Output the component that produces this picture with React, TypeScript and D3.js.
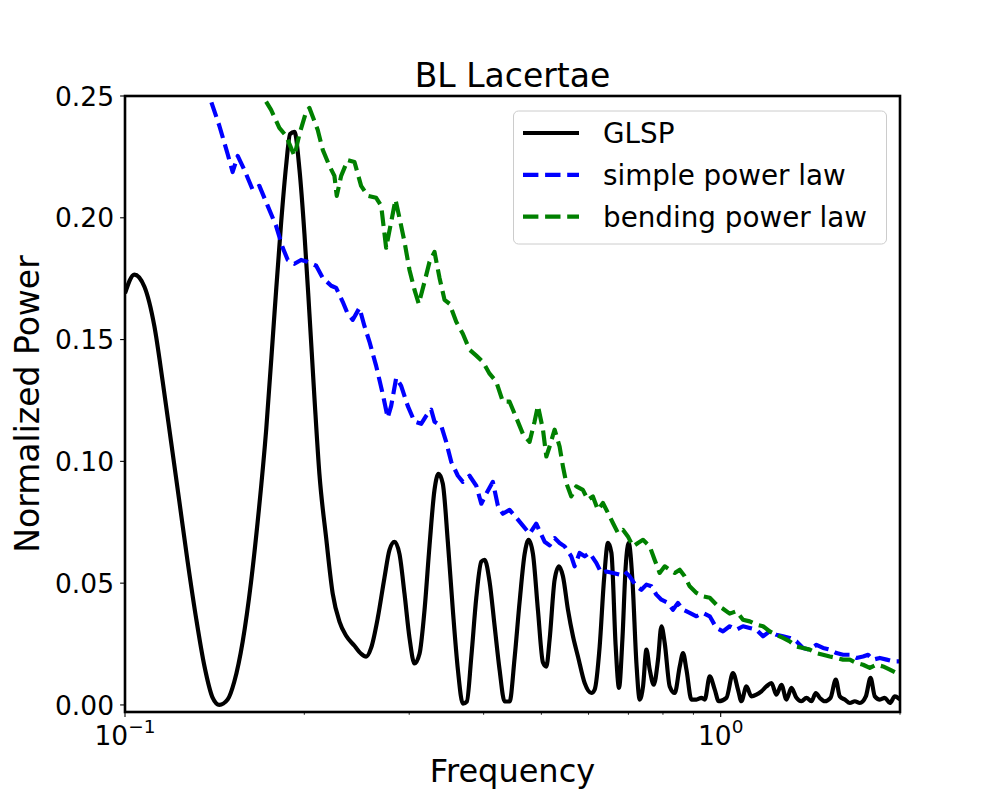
import React from "react";
import * as d3 from "d3";

// GLSP periodogram
const glspFreq = [
  0.100, 0.1037, 0.1078, 0.1120, 0.1157, 0.1195, 0.1234, 0.1274, 0.1316, 0.1359,
  0.1403, 0.1440, 0.1487, 0.1526, 0.1576, 0.1628, 0.1670, 0.1726, 0.1782, 0.1829,
  0.1864, 0.1893, 0.1925, 0.1963, 0.2001, 0.2040, 0.2080, 0.2120, 0.2176, 0.2232,
  0.2291, 0.2351, 0.2428, 0.2491, 0.2540, 0.2590, 0.2657, 0.2726, 0.2780, 0.2834,
  0.2889, 0.2946, 0.3003, 0.3062, 0.3122, 0.3183, 0.3245, 0.3308, 0.3360, 0.3416,
  0.3483, 0.3551, 0.3621, 0.3691, 0.3749, 0.3813, 0.3888, 0.3964, 0.4015, 0.4093,
  0.4173, 0.4254, 0.4338, 0.4422, 0.4509, 0.4597, 0.4687, 0.4760, 0.4840, 0.4934,
  0.5031, 0.5097, 0.5162, 0.5263, 0.5352, 0.5435, 0.5541, 0.5650, 0.5760, 0.5911,
  0.6066, 0.6144, 0.6264, 0.6370, 0.6469, 0.6555, 0.6664, 0.6750, 0.6839, 0.6927,
  0.7008, 0.7109, 0.7220, 0.7313, 0.7407, 0.7505, 0.7601, 0.7720, 0.7849, 0.7953,
  0.8055, 0.8212, 0.8373, 0.8536, 0.8646, 0.8760, 0.8932, 0.9106, 0.9284, 0.9403,
  0.9586, 0.9774, 0.9923, 1.0223, 1.0487, 1.0692, 1.0833, 1.1045, 1.1261, 1.1481,
  1.1705, 1.1934, 1.2167, 1.2405, 1.2647, 1.2894, 1.3146, 1.3403, 1.3665, 1.3932,
  1.4204, 1.4443, 1.4668, 1.4955, 1.5288, 1.5605, 1.5849, 1.6158, 1.6474, 1.6796,
  1.7124, 1.7526, 1.7848, 1.8147, 1.8502, 1.8863, 1.9232, 1.9608, 2.0,
];
const glspPower = [
  0.169, 0.1767, 0.1717, 0.1556, 0.1327, 0.108, 0.0834, 0.0588, 0.0358, 0.0161,
  0.003, 0.0, 0.0022, 0.0096, 0.026, 0.0506, 0.0752, 0.113, 0.1606, 0.1983,
  0.2213, 0.2344, 0.2353, 0.2197, 0.1934, 0.1606, 0.126, 0.0949, 0.0686, 0.0457,
  0.0342, 0.0284, 0.0243, 0.021, 0.0198, 0.0235, 0.0358, 0.0522, 0.0637, 0.067,
  0.062, 0.0456, 0.0276, 0.017, 0.021, 0.039, 0.0654, 0.0883, 0.0949, 0.0908,
  0.067, 0.039, 0.0145, 0.0005, 0.0014, 0.0194, 0.044, 0.0588, 0.0596, 0.0506,
  0.0325, 0.0145, 0.0014, 0.0014, 0.0194, 0.0424, 0.062, 0.0678, 0.062, 0.039,
  0.0174, 0.0157, 0.0268, 0.0514, 0.0569, 0.0528, 0.0391, 0.0282, 0.0199, 0.009,
  0.0049, 0.0063, 0.024, 0.0514, 0.0665, 0.0624, 0.024, 0.007, 0.0268, 0.0569,
  0.0665, 0.0514, 0.0172, 0.0022, 0.0076, 0.0227, 0.0145, 0.0083, 0.0186, 0.0323,
  0.0254, 0.0076, 0.0049, 0.0158, 0.0213, 0.0145, 0.0022, 0.0022, 0.0029, 0.0022,
  0.0117, 0.0063, 0.0015, 0.0029, 0.0131, 0.0063, 0.0015, 0.0076, 0.0035, 0.0042,
  0.0056, 0.0076, 0.009, 0.0042, 0.0083, 0.0022, 0.007, 0.0029, 0.0015, 0.0029,
  0.0015, 0.0049, 0.0029, 0.0015, 0.0029, 0.0104, 0.0035, 0.0022, 0.0008, 0.0015,
  0.0008, 0.0035, 0.0111, 0.0035, 0.0022, 0.0029, 0.0008, 0.0035, 0.0022,
];

// simple power law
const splFreq = [
  0.1359, 0.1385, 0.1440, 0.1487, 0.1516, 0.1546, 0.1586, 0.1638, 0.1681, 0.1736,
  0.1793, 0.1840, 0.1876, 0.1925, 0.1975, 0.2026, 0.2094, 0.2148, 0.2219, 0.2262,
  0.2320, 0.2365, 0.2412, 0.2475, 0.2523, 0.2573, 0.2640, 0.2708, 0.2761, 0.2798,
  0.2853, 0.2908, 0.2983, 0.3062, 0.3142, 0.3203, 0.3266, 0.3308, 0.3395, 0.3461,
  0.3529, 0.3621, 0.3691, 0.3788, 0.3888, 0.3964, 0.4040, 0.4145, 0.4226, 0.4308,
  0.4422, 0.4538, 0.4655, 0.4777, 0.4902, 0.5063, 0.5162, 0.5263, 0.5365, 0.5470,
  0.5613, 0.5686, 0.5796, 0.5911, 0.6025, 0.6183, 0.6304, 0.6427, 0.6593, 0.6766,
  0.6899, 0.7033, 0.7220, 0.7359, 0.7505, 0.7649, 0.7798, 0.7953, 0.8156, 0.8315,
  0.8477, 0.8646, 0.8871, 0.9106, 0.9339, 0.9586, 0.9835, 1.0089, 1.0354, 1.0626,
  1.0901, 1.1187, 1.1481, 1.1778, 1.2087, 1.2405, 1.2725, 1.3059, 1.3403, 1.3747,
  1.4109, 1.4480, 1.4854, 1.5244, 1.5645, 1.6049, 1.6474, 1.6903, 1.7340, 1.7680,
  1.8024, 1.8502, 1.8986, 1.9472, 2.0,
];
const splPower = [
  0.256, 0.25, 0.2378, 0.2262, 0.2188, 0.2254, 0.2197, 0.2115, 0.2131, 0.2049,
  0.1967, 0.1877, 0.1827, 0.1811, 0.1827, 0.1819, 0.1803, 0.1753, 0.1721, 0.1712,
  0.1655, 0.1606, 0.1581, 0.163, 0.1556, 0.1491, 0.1392, 0.1277, 0.1179, 0.1228,
  0.1343, 0.131, 0.1228, 0.1163, 0.1154, 0.1187, 0.1212, 0.1163, 0.1146, 0.108,
  0.0998, 0.0941, 0.0916, 0.0941, 0.09, 0.0826, 0.0867, 0.0916, 0.0818, 0.0785,
  0.0801, 0.0769, 0.0736, 0.0703, 0.0744, 0.067, 0.0655, 0.0685, 0.0665, 0.0651,
  0.061, 0.0569, 0.0624, 0.061, 0.0624, 0.0583, 0.0542, 0.0548, 0.0542, 0.0535,
  0.0548, 0.0528, 0.0487, 0.0473, 0.0494, 0.0487, 0.0453, 0.0432, 0.0419, 0.0391,
  0.0419, 0.0391, 0.0378, 0.0364, 0.0378, 0.0364, 0.0316, 0.0302, 0.0323, 0.0309,
  0.0323, 0.0316, 0.0309, 0.0282, 0.0302, 0.0288, 0.0282, 0.0275, 0.0261, 0.0234,
  0.0227, 0.0247, 0.0234, 0.0227, 0.0213, 0.0206, 0.0206, 0.0193, 0.0199, 0.0206,
  0.0186, 0.0193, 0.0186, 0.0179, 0.0179,
];

// bending power law
const bplFreq = [
  0.1668, 0.1703, 0.1759, 0.1816, 0.1864, 0.1900, 0.1925, 0.1963, 0.2014, 0.2040,
  0.2106, 0.2148, 0.2204, 0.2247, 0.2267, 0.2306, 0.2365, 0.2428, 0.2491, 0.2556,
  0.2640, 0.2692, 0.2744, 0.2798, 0.2845, 0.2889, 0.2946, 0.3003, 0.3062, 0.3113,
  0.3183, 0.3245, 0.3308, 0.3373, 0.3439, 0.3506, 0.3598, 0.3691, 0.3788, 0.3888,
  0.3988, 0.4093, 0.4200, 0.4308, 0.4422, 0.4538, 0.4655, 0.4777, 0.4870, 0.4934,
  0.5031, 0.5097, 0.5162, 0.5263, 0.5365, 0.5435, 0.5506, 0.5613, 0.5723, 0.5870,
  0.5985, 0.6102, 0.6222, 0.6343, 0.6469, 0.6593, 0.6722, 0.6853, 0.6986, 0.7123,
  0.7262, 0.7407, 0.7601, 0.7746, 0.7898, 0.8055, 0.8212, 0.8373, 0.8536, 0.8700,
  0.8871, 0.9106, 0.9339, 0.9586, 0.9835, 1.0089, 1.0354, 1.0626, 1.0901, 1.1187,
  1.1481, 1.1778, 1.2087, 1.2405, 1.2725, 1.3059, 1.3403, 1.3747, 1.4109, 1.4480,
  1.4854, 1.5244, 1.5645, 1.6049, 1.6474, 1.6903, 1.7340, 1.7795, 1.8263, 1.8732,
  1.9232, 1.9732, 2.0,
];
const bplPower = [
  0.256, 0.25, 0.2443, 0.2369, 0.2336, 0.2287, 0.2254, 0.2344, 0.2435, 0.2451,
  0.2361, 0.2279, 0.2213, 0.2172, 0.209, 0.2172, 0.2237, 0.2229, 0.2131, 0.209,
  0.2082, 0.2049, 0.1877, 0.1983, 0.2074, 0.2, 0.1901, 0.1786, 0.1704, 0.1647,
  0.1737, 0.1819, 0.186, 0.1753, 0.1663, 0.1647, 0.1573, 0.1524, 0.1458, 0.1434,
  0.1409, 0.136, 0.1327, 0.1245, 0.1245, 0.1179, 0.1113, 0.108, 0.1163, 0.1228,
  0.113, 0.102, 0.1061, 0.113, 0.1061, 0.0979, 0.0911, 0.0856, 0.0897, 0.0883,
  0.0842, 0.0856, 0.0801, 0.0829, 0.0788, 0.0747, 0.0706, 0.0719, 0.0692, 0.0651,
  0.0665, 0.0678, 0.0651, 0.0596, 0.0542, 0.0569, 0.0555, 0.0542, 0.0555, 0.0528,
  0.0487, 0.046, 0.0446, 0.044, 0.0412, 0.0395, 0.0375, 0.0385, 0.035, 0.0343,
  0.033, 0.0323, 0.0302, 0.0288, 0.0275, 0.0261, 0.024, 0.0234, 0.0227, 0.0213,
  0.0206, 0.0199, 0.0193, 0.0186, 0.0186, 0.0172, 0.0165, 0.0152, 0.0165, 0.0158,
  0.0145, 0.0131, 0.0131,
];

const yTicks = [0, 0.05, 0.1, 0.15, 0.2, 0.25];
const xMajorTicks = [0.1, 1];
const xMajorExp = ["\u22121", "0"];
const xMinorTicks = [0.2, 0.3, 0.4, 0.5, 0.6, 0.7, 0.8, 0.9, 2];

const legendLabels = ["GLSP", "simple power law", "bending power law"];
const legendColors = ["#000000", "#0000ff", "#008000"];

const FONT = "DejaVu Sans, sans-serif";

type Pt = [number, number];

const App: React.FC = () => {
  const left = 125, right = 900, top = 96, bottom = 712;

  const x = d3.scaleLog().domain([0.1, 2.0]).range([left, right]);
  const y = d3.scaleLinear().domain([-0.0029, 0.25]).range([bottom, top]);

  const zip = (f: number[], p: number[]): Pt[] => f.map((v, i) => [v, p[i]]);

  // the periodogram is smooth, the model curves are jagged
  const smooth = d3.line<Pt>()
    .x(d => x(d[0]))
    .y(d => y(d[1]))
    .curve(d3.curveMonotoneX);
  const jagged = d3.line<Pt>()
    .x(d => x(d[0]))
    .y(d => y(d[1]));

  const lw = 4.17;
  const dash = "15.4,6.7";

  return (
    <div style={{ position: "absolute", left: 0, top: 0 }}>
      <svg width={1000} height={800} style={{ display: "block", background: "#fff" }}>
        <defs>
          <clipPath id="plotArea">
            <rect x={left} y={top} width={right - left} height={bottom - top} />
          </clipPath>
        </defs>

        <g clipPath="url(#plotArea)" fill="none" strokeLinejoin="round">
          <path d={smooth(zip(glspFreq, glspPower)) || ""} stroke="#000" strokeWidth={lw} />
          <path d={jagged(zip(splFreq, splPower)) || ""} stroke="#0000ff" strokeWidth={lw}
            strokeDasharray={dash} />
          <path d={jagged(zip(bplFreq, bplPower)) || ""} stroke="#008000" strokeWidth={lw}
            strokeDasharray={dash} />
        </g>

        {/* y axis */}
        {yTicks.map(t => (
          <g key={"y" + t}>
            <line x1={left - 4.9} x2={left} y1={y(t)} y2={y(t)} stroke="#000" strokeWidth={1.1} />
            <text x={left - 11} y={y(t) + 9.6} textAnchor="end" fontFamily={FONT} fontSize={26.5}>
              {t.toFixed(2)}
            </text>
          </g>
        ))}

        {/* x axis */}
        {xMinorTicks.map(t => (
          <line key={"xm" + t} x1={x(t)} x2={x(t)} y1={bottom} y2={bottom + 2.8}
            stroke="#000" strokeWidth={0.85} />
        ))}
        {xMajorTicks.map((t, i) => (
          <g key={"x" + t}>
            <line x1={x(t)} x2={x(t)} y1={bottom} y2={bottom + 4.9} stroke="#000" strokeWidth={1.1} />
            <text x={x(t)} y={745} textAnchor="middle" fontFamily={FONT} fontSize={26.5}>
              10<tspan fontSize={18.5} dy={-12}>{xMajorExp[i]}</tspan>
            </text>
          </g>
        ))}

        <rect x={left} y={top} width={right - left} height={bottom - top}
          fill="none" stroke="#000" strokeWidth={2.6} />

        <text x={(left + right) / 2} y={87} textAnchor="middle" fontFamily={FONT} fontSize={33}>
          BL Lacertae
        </text>
        <text x={(left + right) / 2} y={782} textAnchor="middle" fontFamily={FONT} fontSize={32}>
          Frequency
        </text>
        <text transform={`translate(39,${(top + bottom) / 2}) rotate(-90)`} textAnchor="middle"
          fontFamily={FONT} fontSize={33}>
          Normalized Power
        </text>

        {/* legend */}
        <g>
          <rect x={513.5} y={111} width={373} height={133} rx={5} fill="#fff" fillOpacity={0.8}
            stroke="#cccccc" strokeWidth={1} />
          {legendLabels.map((lab, i) => {
            const ry = 133 + i * 41.8;
            return (
              <g key={lab}>
                <line x1={523} x2={579} y1={ry} y2={ry} stroke={legendColors[i]} strokeWidth={lw}
                  strokeDasharray={i === 0 ? undefined : dash} />
                <text x={603} y={ry + 10} fontFamily={FONT} fontSize={27.8}>{lab}</text>
              </g>
            );
          })}
        </g>
      </svg>
    </div>
  );
};

export default App;
